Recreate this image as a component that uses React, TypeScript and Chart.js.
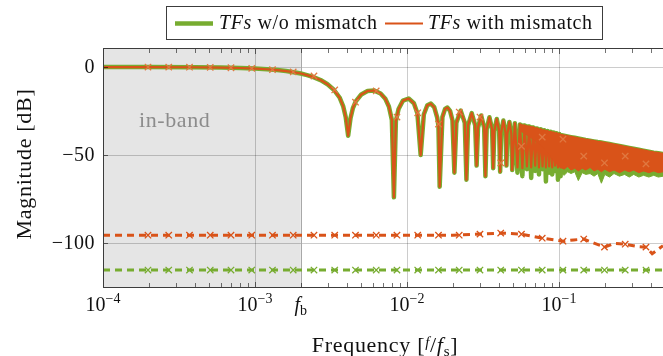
import React, { useEffect, useRef } from "react";
import { Chart, registerables } from "chart.js";
Chart.register(...registerables);

const GREEN = "#77AC30";
const ORANGE = "#D95319";
const MARK_ORANGE = "#E07840";
const SERIF = '"Liberation Serif", "Times New Roman", serif';

// ---- main transfer function (with / without mismatch) ----
const tfFreqs = [
  1e-4, 2e-4, 4e-4, 6e-4, 8e-4, 1e-3, 1.2e-3, 1.4e-3, 1.6e-3, 1.8e-3, 2.0e-3, 2.2e-3, 2.4e-3, 2.7e-3,
  3.0e-3, 3.3e-3, 3.6e-3, 3.8e-3, 3.95e-3, 4.1e-3, 4.25e-3, 4.4e-3, 4.6e-3, 5.0e-3, 5.5e-3, 6.1e-3,
  6.7e-3, 7.2e-3, 7.6e-3, 7.95e-3, 8.2e-3, 8.45e-3, 8.8e-3, 9.4e-3, 1.025e-2, 1.11e-2, 1.17e-2,
  1.23e-2, 1.29e-2, 1.36e-2, 1.435e-2, 1.51e-2, 1.58e-2, 1.61e-2, 1.64e-2, 1.71e-2, 1.78e-2, 1.845e-2,
  1.92e-2, 1.99e-2, 2.05e-2,
  0.02112, 0.02255, 0.02399, 0.0246,
  0.02522, 0.02665, 0.02809, 0.0287,
  0.02932, 0.03075, 0.03219, 0.0328,
  0.03342, 0.03485, 0.03629, 0.0369,
  0.03752, 0.03895, 0.04039, 0.041,
  0.04162, 0.04305, 0.04449, 0.0451,
  0.04572, 0.04715, 0.04859, 0.0492,
  0.05125, 0.0533, 0.05535, 0.0574, 0.05945, 0.0615, 0.06355, 0.0656, 0.06765, 0.0697,
  0.07175, 0.0738, 0.07585, 0.0779, 0.07995, 0.082, 0.08405, 0.0861, 0.08815, 0.0902,
  0.09225, 0.0943, 0.09635, 0.0984, 0.10045, 0.1025,
];
const tfGreenDb = [
  -0.01, -0.03, -0.13, -0.31, -0.55, -0.87, -1.26, -1.73, -2.3, -2.95, -3.7, -4.6, -5.6, -7.4,
  -9.8, -12.9, -17.3, -22.2, -28.4, -39, -29.1, -23.5, -19.5, -15.6, -13.6, -13.4,
  -15.0, -18.0, -22.4, -30.1, -74, -30.6, -23.8, -19.1, -17.9, -20.6, -26.2,
  -50, -27, -21.7, -20.8, -22.8, -28.7, -33.5, -68, -28.4, -23.8, -23.0,
  -24.9, -30.2, -60,
  -31.6, -24.75, -31.6, -64,
  -33.1, -26.2, -33.1, -56,
  -34.4, -27.5, -34.4, -62,
  -35.4, -28.5, -35.4, -57.5,
  -36.4, -29.5, -36.4, -59.5,
  -37.3, -30.4, -37.3, -56,
  -38.1, -31.2, -38.1, -58.5,
  -31.9, -60, -32.6, -62, -33.2, -58, -33.8, -63, -34.3, -59,
  -34.9, -61, -35.4, -58, -35.9, -65, -36.4, -60, -36.8, -61,
  -37.2, -59, -37.6, -64, -38.0, -62,
];
const tfOrangeDb = [
  -0.01, -0.03, -0.13, -0.31, -0.55, -0.87, -1.26, -1.73, -2.3, -2.95, -3.7, -4.6, -5.6, -7.4,
  -9.8, -12.9, -17.3, -22.2, -28.4, -39, -29.1, -23.5, -19.5, -15.6, -13.6, -13.4,
  -15.0, -18.0, -22.4, -30.1, -74, -30.6, -23.8, -19.1, -17.9, -20.6, -26.2,
  -50, -27, -21.7, -20.8, -22.8, -28.7, -33.5, -68, -28.4, -23.8, -23.0,
  -24.9, -30.2, -60,
  -31.6, -24.75, -31.6, -64,
  -33.1, -26.2, -33.1, -56,
  -34.4, -27.5, -34.4, -62,
  -35.4, -28.5, -35.4, -57.5,
  -36.4, -29.5, -36.4, -59.5,
  -37.3, -30.4, -37.3, -56,
  -38.1, -31.2, -38.1, -58.5,
  -31.9, -57, -32.6, -57.5, -33.2, -56.5, -33.8, -57, -34.3, -56,
  -34.9, -57, -35.4, -56.5, -35.9, -57, -36.4, -56.5, -36.8, -57,
  -37.2, -56, -37.6, -57, -38.0, -57,
];

// ---- dense high-frequency band (lobes merge) ----
const bandFreqs = [
  0.055, 0.06, 0.065, 0.07, 0.075, 0.08, 0.085, 0.09, 0.095,
  0.1025, 0.108, 0.114, 0.12, 0.127, 0.134, 0.142, 0.15, 0.16, 0.17, 0.18, 0.19, 0.2,
  0.215, 0.23, 0.25, 0.27, 0.29, 0.31, 0.335, 0.36, 0.39, 0.42, 0.45, 0.4832,
];
const bandTopDb = [
  -32.5, -33.2, -33.8, -34.6, -35.3, -35.9, -36.5, -37.0, -37.5,
  -38.2, -38.6, -39.0, -39.4, -39.8, -40.2, -40.6, -41.0, -41.4, -41.8, -42.2, -42.5, -42.8,
  -43.3, -43.8, -44.4, -45.0, -45.5, -46.0, -46.6, -47.1, -47.7, -48.2, -48.6, -49.0,
];
const orangeBandBottomDb = [
  -36, -38, -40, -42, -44, -46.5, -49, -52, -54.5,
  -57, -58, -56.5, -58.5, -57.5, -59, -57.5, -58.5, -57, -59, -58, -59.5, -58,
  -59.5, -58.5, -60, -58.5, -59.5, -58.5, -60, -59, -60, -59, -60, -59.5,
];
const greenBandBottomDb = [
  -36, -38, -40, -42, -44, -46.5, -49, -52, -54.5,
  -60, -61.5, -59.5, -60.5, -59.5, -64.5, -60, -61, -60.5, -62, -60.5, -66, -61,
  -62.5, -60.5, -62, -61, -62.5, -61, -62.5, -61.5, -62.5, -61.5, -62.5, -62,
];

// ---- markers ----
const markerFreqs = [
  1.977e-4, 2.707e-4, 3.707e-4, 5.076e-4, 6.95e-4, 9.517e-4, 1.303e-3, 1.784e-3, 2.443e-3,
  3.345e-3, 4.581e-3, 6.273e-3, 8.59e-3, 1.176e-2, 1.611e-2, 2.205e-2, 3.02e-2, 4.135e-2,
  5.662e-2, 7.754e-2, 0.1062, 0.1454, 0.1991, 0.2726, 0.3733,
];
const tfMarkerDb = [
  -0.03, -0.06, -0.11, -0.21, -0.42, -0.78, -1.48, -2.8, -5.1, -13, -20, -13.6, -28.4, -26,
  -32.4, -25.6, -28.4, -54.5, -45, -39.8, -41, -50.6, -54.5, -50.6, -55,
];
const mismatchDashMarkerDb = [
  -95.5, -95.5, -95.5, -95.5, -95.5, -95.5, -95.5, -95.5, -95.5, -95.5, -95.5, -95.5, -95.5,
  -95.5, -95.5, -95.5, -94.9, -94.3, -94.9, -97.2, -98.9, -97.7, -102.3, -100.6, -102.3,
];
const refDashMarkerDb = [
  -115.3, -115.3, -115.3, -115.3, -115.3, -115.3, -115.3, -115.3, -115.3, -115.3, -115.3, -115.3,
  -115.3, -115.3, -115.3, -115.3, -115.3, -115.3, -115.3, -115.3, -115.3, -115.3, -115.3, -115.3,
  -115.3,
];
const mismatchDashFreqs = [
  1e-4, 0.02, 0.0302, 0.0414, 0.0566, 0.0775, 0.1062, 0.125, 0.1454, 0.17, 0.1991, 0.23, 0.2726,
  0.33, 0.3733, 0.41, 0.4832,
];
const mismatchDashDb = [
  -95.5, -95.5, -94.9, -94.3, -94.9, -97.2, -98.9, -98.2, -97.7, -100, -102.3, -100.2, -100.6,
  -102, -102.3, -106, -101.5,
];
const refDashFreqs = [1e-4, 0.4832];
const refDashDb = [-115.3, -115.3];

// ---- axes ----
const xTickExponents = [-4, -3, -2, -1];
const xMinorMultipliers = [2, 3, 4, 5, 6, 7, 8, 9];
const yTickValues = [0, -50, -100];
const bandEdge = 0.002;
const X_MIN = 1e-4;
const X_MAX = 0.4832;
const Y_MIN = -125.5;
const Y_MAX = 10.8;

const pts = (xs: number[], ys: number[]) => xs.map((x, i) => ({ x, y: ys[i] }));
const F = (size: number, italic = false) => `${italic ? "italic " : ""}${size}px ${SERIF}`;

type Run = { t: string; f: string; dy?: number };
function runsWidth(ctx: any, runs: Run[]) {
  let w = 0;
  for (const r of runs) {
    ctx.font = r.f;
    w += ctx.measureText(r.t).width;
  }
  return w;
}
function drawRuns(ctx: any, runs: Run[], x: number, y: number, align: "left" | "center") {
  let cx = align === "center" ? x - runsWidth(ctx, runs) / 2 : x;
  ctx.textAlign = "left";
  ctx.textBaseline = "alphabetic";
  for (const r of runs) {
    ctx.font = r.f;
    ctx.fillText(r.t, cx, y + (r.dy || 0));
    cx += ctx.measureText(r.t).width;
  }
}

const decorPlugin = {
  id: "decor",
  beforeDraw(chart: any) {
    const { ctx, chartArea: a, scales } = chart;
    const xb = scales.x.getPixelForValue(bandEdge);
    ctx.save();
    ctx.fillStyle = "#ffffff";
    ctx.fillRect(0, 0, chart.width, chart.height);
    ctx.fillStyle = "#e5e5e5";
    ctx.fillRect(a.left, a.top, xb - a.left, a.bottom - a.top);
    ctx.restore();
  },
  beforeDatasetsDraw(chart: any) {
    const { ctx, chartArea: a, scales } = chart;
    const xb = Math.round(scales.x.getPixelForValue(bandEdge)) + 0.5;
    ctx.save();
    ctx.strokeStyle = "#a8a8a8";
    ctx.lineWidth = 1;
    ctx.beginPath();
    ctx.moveTo(xb, a.top);
    ctx.lineTo(xb, a.bottom);
    ctx.stroke();
    ctx.fillStyle = "#8c8c8c";
    (ctx as any).letterSpacing = "0.6px";
    drawRuns(ctx, [{ t: "in-band", f: F(22) }], a.left + 36, a.top + 79, "left");
    ctx.restore();
  },
  afterDraw(chart: any) {
    const { ctx, chartArea: a, scales } = chart;
    const xs = scales.x;
    const ys = scales.y;
    ctx.save();
    // minor + major ticks
    ctx.strokeStyle = "rgba(0,0,0,0.55)";
    ctx.lineWidth = 1;
    ctx.beginPath();
    for (const e of xTickExponents) {
      for (const m of [1, ...xMinorMultipliers]) {
        const v = m * Math.pow(10, e);
        if (v < X_MIN || v > X_MAX) continue;
        const x = Math.round(xs.getPixelForValue(v)) + 0.5;
        const len = m === 1 ? 6 : 5;
        ctx.moveTo(x, a.bottom);
        ctx.lineTo(x, a.bottom - len);
        ctx.moveTo(x, a.top);
        ctx.lineTo(x, a.top + len);
      }
    }
    for (const v of yTickValues) {
      const y = Math.round(ys.getPixelForValue(v)) + 0.5;
      ctx.moveTo(a.left, y);
      ctx.lineTo(a.left + 5, y);
    }
    ctx.stroke();

    // frame
    ctx.strokeStyle = "#3c3c3c";
    ctx.lineWidth = 1;
    ctx.beginPath();
    ctx.moveTo(a.right + 1, a.top + 0.5);
    ctx.lineTo(a.left + 0.5, a.top + 0.5);
    ctx.lineTo(a.left + 0.5, a.bottom - 0.5);
    ctx.lineTo(a.right + 1, a.bottom - 0.5);
    ctx.stroke();

    ctx.fillStyle = "#111";
    (ctx as any).letterSpacing = "0px";
    // x tick labels
    for (const e of xTickExponents) {
      const x = xs.getPixelForValue(Math.pow(10, e));
      drawRuns(
        ctx,
        [
          { t: "10", f: F(20) },
          { t: "\u2212" + Math.abs(e), f: F(14), dy: -8 },
        ],
        x,
        a.bottom + 23,
        "center"
      );
    }
    // f_b label
    drawRuns(
      ctx,
      [
        { t: "f", f: F(20, true) },
        { t: "b", f: F(14), dy: 4 },
      ],
      xs.getPixelForValue(bandEdge),
      a.bottom + 23,
      "center"
    );
    // y tick labels
    (ctx as any).letterSpacing = "0.5px";
    for (const v of yTickValues) {
      const y = ys.getPixelForValue(v);
      ctx.font = F(20);
      ctx.textAlign = "right";
      ctx.textBaseline = "middle";
      ctx.fillText(v === 0 ? "0" : "\u2212" + Math.abs(v), a.left - 8, y + 1);
    }
    // axis titles
    (ctx as any).letterSpacing = "0.7px";
    drawRuns(
      ctx,
      [
        { t: "Frequency [", f: F(22) },
        { t: "f", f: F(15, true), dy: -5 },
        { t: "/", f: F(22) },
        { t: "f", f: F(22, true) },
        { t: "s", f: F(15), dy: 4 },
        { t: "]", f: F(22) },
      ],
      385,
      a.bottom + 64,
      "center"
    );
    ctx.save();
    ctx.translate(31, 164);
    ctx.rotate(-Math.PI / 2);
    drawRuns(ctx, [{ t: "Magnitude [dB]", f: F(22) }], 0, 0, "center");
    ctx.restore();

    // legend
    (ctx as any).letterSpacing = "0.6px";
    ctx.fillStyle = "#ffffff";
    ctx.fillRect(166, 6, 437, 34);
    ctx.strokeStyle = "#3c3c3c";
    ctx.lineWidth = 1;
    ctx.strokeRect(166.5, 6.5, 436, 33);
    ctx.lineCap = "butt";
    ctx.strokeStyle = GREEN;
    ctx.lineWidth = 4.5;
    ctx.beginPath();
    ctx.moveTo(175, 23.5);
    ctx.lineTo(213, 23.5);
    ctx.stroke();
    ctx.strokeStyle = ORANGE;
    ctx.lineWidth = 2.2;
    ctx.beginPath();
    ctx.moveTo(385, 23.5);
    ctx.lineTo(423, 23.5);
    ctx.stroke();
    ctx.fillStyle = "#111";
    drawRuns(ctx, [{ t: "TFs", f: F(20, true) }, { t: " w/o mismatch", f: F(20) }], 219, 29, "left");
    drawRuns(ctx, [{ t: "TFs", f: F(20, true) }, { t: " with mismatch", f: F(20) }], 428, 29, "left");
    ctx.restore();
  },
};

export default function App() {
  const ref = useRef<HTMLCanvasElement | null>(null);
  useEffect(() => {
    if (!ref.current) return;
    const marker = (ys: number[], color: string, order: number) => ({
      data: pts(markerFreqs, ys),
      showLine: false,
      pointStyle: "crossRot",
      pointRadius: 4.5,
      pointBorderWidth: 1.3,
      pointBorderColor: color,
      pointBackgroundColor: "transparent",
      borderColor: color,
      order,
    });
    const chart = new Chart(ref.current, {
      type: "line",
      data: {
        datasets: [
          {
            data: pts(refDashFreqs, refDashDb),
            borderColor: GREEN,
            borderWidth: 3,
            borderDash: [7, 5],
            pointRadius: 0,
            order: 20,
          },
          {
            data: pts(mismatchDashFreqs, mismatchDashDb),
            borderColor: ORANGE,
            borderWidth: 3,
            borderDash: [7, 5],
            pointRadius: 0,
            order: 19,
          },
          {
            data: pts(tfFreqs, tfGreenDb),
            borderColor: GREEN,
            borderWidth: 4.5,
            borderJoinStyle: "round",
            borderCapStyle: "round",
            pointRadius: 0,
            order: 15,
          },
          {
            data: pts(bandFreqs, bandTopDb),
            borderColor: GREEN,
            borderWidth: 3,
            pointRadius: 0,
            order: 14,
          },
          {
            data: pts(bandFreqs, greenBandBottomDb),
            borderColor: GREEN,
            borderWidth: 1,
            backgroundColor: GREEN,
            fill: "-1",
            pointRadius: 0,
            order: 13,
          },
          {
            data: pts(tfFreqs, tfOrangeDb),
            borderColor: ORANGE,
            borderWidth: 2.2,
            borderJoinStyle: "round",
            borderCapStyle: "round",
            pointRadius: 0,
            order: 10,
          },
          {
            data: pts(bandFreqs, bandTopDb),
            borderColor: ORANGE,
            borderWidth: 1.2,
            pointRadius: 0,
            order: 9,
          },
          {
            data: pts(bandFreqs, orangeBandBottomDb),
            borderColor: ORANGE,
            borderWidth: 1,
            backgroundColor: ORANGE,
            fill: "-1",
            pointRadius: 0,
            order: 8,
          },
          marker(refDashMarkerDb, GREEN, 3),
          marker(mismatchDashMarkerDb, ORANGE, 2),
          marker(tfMarkerDb, MARK_ORANGE, 1),
        ] as any,
      },
      options: {
        animation: false,
        responsive: false,
        devicePixelRatio: 1,
        layout: { autoPadding: false, padding: { left: 103, top: 48, right: 0, bottom: 68 } },
        plugins: { legend: { display: false }, tooltip: { enabled: false } },
        elements: { line: { tension: 0 } },
        scales: {
          x: {
            type: "logarithmic",
            bounds: "data",
            min: X_MIN,
            max: X_MAX,
            afterBuildTicks: (s: any) => {
              s.ticks = xTickExponents.map((e) => ({ value: Math.pow(10, e) }));
            },
            ticks: { display: false },
            grid: { color: "rgba(0,0,0,0.2)", lineWidth: 1, drawTicks: false },
            border: { display: false },
          },
          y: {
            type: "linear",
            bounds: "data",
            min: Y_MIN,
            max: Y_MAX,
            afterBuildTicks: (s: any) => {
              s.ticks = yTickValues.map((v) => ({ value: v }));
            },
            ticks: { display: false },
            grid: { color: "rgba(0,0,0,0.2)", lineWidth: 1, drawTicks: false },
            border: { display: false },
          },
        },
      } as any,
      plugins: [decorPlugin],
    });
    return () => chart.destroy();
  }, []);
  return (
    <div style={{ position: "fixed", left: 0, top: 0, width: 663, height: 356 }}>
      <canvas ref={ref} width={663} height={356} style={{ display: "block" }} />
    </div>
  );
}
